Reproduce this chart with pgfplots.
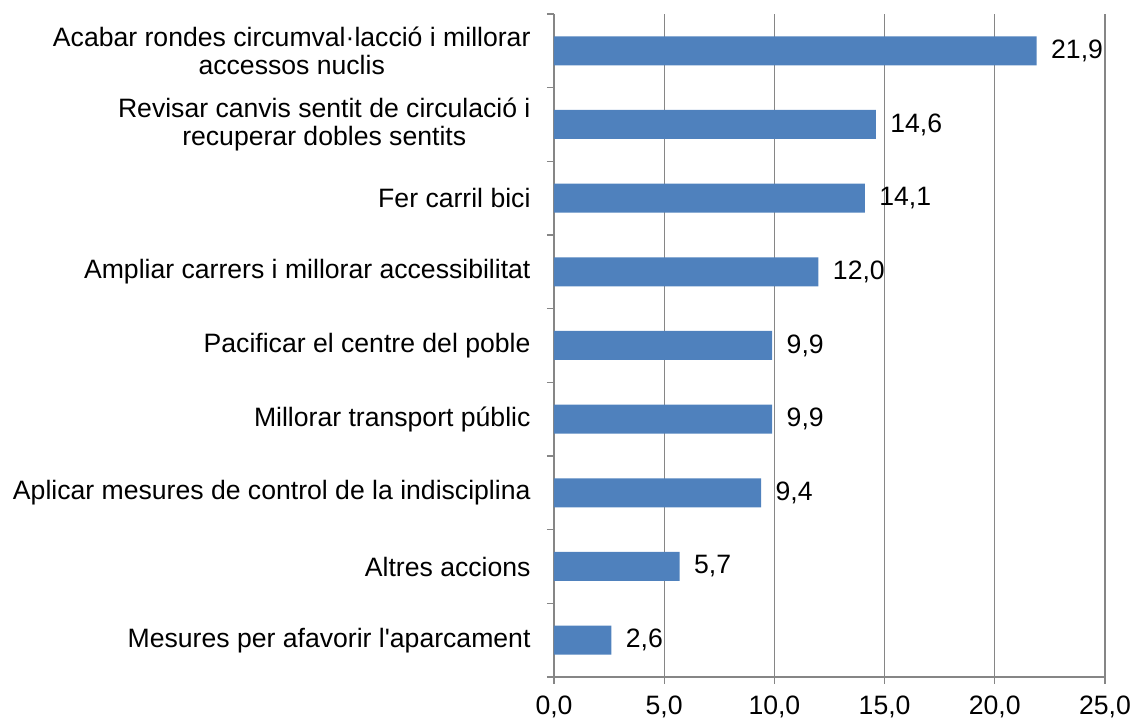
\documentclass[border=0pt]{standalone}
\usepackage{fontspec}
\setmainfont{Liberation Sans}
\usepackage{pgfplots}
\pgfplotsset{compat=1.18}
\definecolor{barblue}{HTML}{4F81BD}
\definecolor{axgray}{HTML}{868686}
\newcommand{\lblfont}{\fontsize{26.7}{27}\selectfont}
\begin{document}
\begin{tikzpicture}
\begin{axis}[
  at={(0,0)}, anchor=south west,
  scale only axis, width=551bp, height=663bp,
  xbar, bar width=29bp,
  xmin=0, xmax=25, ymin=-0.5, ymax=8.5,
  xtick={0,5,...,25},
  ytick={0,...,8},
  yticklabels={
    {Mesures per afavorir l\textquotesingle aparcament},
    {Altres accions},
    {Aplicar mesures de control de la indisciplina},
    {Millorar transport públic},
    {Pacificar el centre del poble},
    {Ampliar carrers i millorar accessibilitat},
    {Fer carril bici},
    {Revisar canvis sentit de circulació i\\[2bp]recuperar dobles sentits},
    {Acabar rondes circumval·lacció i millorar\\[2bp]accessos nuclis}},
  minor ytick={-0.5,0.5,...,8.5},
  axis x line*=bottom, axis y line*=left,
  axis line style={axgray, line width=1.3bp, -},
  tick align=outside,
  major tick length=7bp, minor tick length=7bp,
  tick style={axgray, line width=1.3bp},
  major y tick style={draw=none},
  xmajorgrids, grid style={axgray, line width=1.3bp},
  yticklabel style={font=\lblfont, align=center, text=black, xshift=-13bp},
  xticklabel style={font=\lblfont, text=black, yshift=-8bp},
  /pgf/number format/.cd, fixed, fixed zerofill, precision=1, use comma, assume math mode=true,
  /pgfplots/.cd,
  point meta=x,
  nodes near coords,
  every node near coord/.append style={font=\lblfont, black, anchor=west, xshift=11bp},
]
\addplot[fill=barblue, draw=none] coordinates {
  (2.6,0) (5.7,1) (9.4,2) (9.9,3) (9.9,4) (12.0,5) (14.1,6) (14.6,7) (21.9,8)
};
\end{axis}
\pgfresetboundingbox
\useasboundingbox (-554bp,-43bp) rectangle (579bp,677bp);
\end{tikzpicture}
\end{document}
